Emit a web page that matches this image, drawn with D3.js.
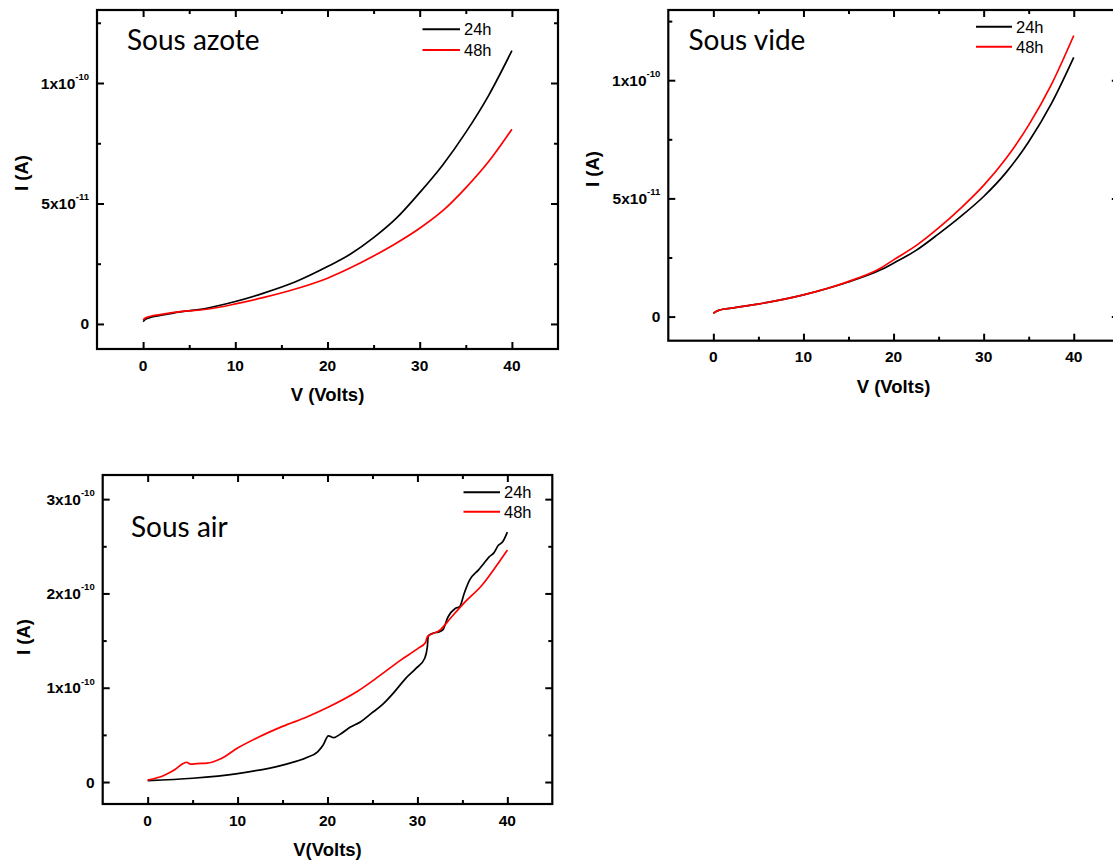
<!DOCTYPE html>
<html>
<head>
<meta charset="utf-8">
<script src="https://cdn.jsdelivr.net/npm/d3@7"></script>
<style>
  html, body { margin: 0; padding: 0; background: #fff; }
  svg { display: block; }
</style>
</head>
<body>
<svg id="chart" width="1113" height="861"></svg>
<script>
// ---------------- DATA (current in pA = 1e-12 A) ----------------
const seriesNames = ["24h", "48h"];
const seriesColors = ["#000000", "#ff0000"];

const xTicks = [0, 10, 20, 30, 40];
const xMinorTicks = [5, 15, 25, 35];

// Sous azote
const azoteV24 = [0, 0.3, 0.7, 2, 4, 6.9, 10, 13, 16.6, 20, 22.5, 25, 27.5, 30, 32.5, 35, 37.5, 40];
const azoteI24 = [1.0, 2.0, 2.6, 3.6, 5.0, 6.5, 9.3, 12.7, 17.6, 23.8, 29.0, 35.8, 44.0, 54.5, 66.0, 79.5, 95.0, 113.4];
const azoteV48 = [0, 0.3, 0.7, 2, 4, 6.9, 10, 13, 16.6, 20, 22.5, 25, 27.5, 30, 32.5, 35, 37.5, 40];
const azoteI48 = [1.7, 2.6, 3.1, 4.0, 5.1, 6.1, 8.3, 10.9, 14.6, 19.0, 23.3, 28.2, 33.6, 39.7, 47.0, 56.5, 67.5, 80.8];
const azoteYTicks = [0, 50, 100];
const azoteYMinor = [25, 75, 125];
const azoteYLabels = [["0", ""], ["5x10", "-11"], ["1x10", "-10"]];

// Sous vide
const videV24 = [0, 0.3, 0.7, 2, 5.1, 10, 14.8, 18.7, 20, 22.5, 25, 27.5, 30, 32.5, 35, 37.5, 40];
const videI24 = [1.4, 2.2, 2.8, 3.6, 5.4, 9.2, 14.4, 20.0, 22.6, 28.0, 35.0, 42.5, 50.8, 61.0, 74.0, 90.0, 109.7];
const videV48 = [0, 0.3, 0.7, 2, 5.1, 10, 14.8, 18.7, 20, 22.5, 25, 27.5, 30, 32.5, 35, 37.5, 40];
const videI48 = [1.4, 2.2, 2.8, 3.6, 5.4, 9.2, 14.6, 20.8, 24.0, 30.0, 37.5, 46.0, 55.5, 67.0, 81.0, 98.0, 118.9];
const videYTicks = [0, 50, 100];
const videYMinor = [25, 75, 125];
const videYLabels = [["0", ""], ["5x10", "-11"], ["1x10", "-10"]];

// Sous air
const airV24 = [0, 5, 10, 15, 17.7, 18.9, 19.5, 20.1, 20.7, 21.3, 22.5, 23.7, 24.9, 26.1, 27.3, 28.7, 29.9, 30.8, 31.1, 31.2, 31.8, 32.3, 32.8, 33.4, 34.2, 34.7, 35.2, 35.8, 36.8, 37.4, 38.0, 38.5, 39.0, 39.5, 40];
const airI24 = [1.4, 4, 9, 18, 26, 32, 39, 49, 47, 50, 58, 64, 73, 82, 94, 110, 121, 131, 143, 155, 158, 159, 161, 175, 184, 186, 200, 214, 225, 232, 239, 243, 251, 255, 265];
const airV48 = [0, 1.8, 3.0, 4.0, 4.3, 4.8, 5.5, 6.6, 8.2, 10, 12.2, 15, 17.7, 20, 23.3, 25.7, 28.1, 30.1, 30.9, 31.1, 32.5, 33.7, 35.2, 37.2, 39.2, 40];
const airI48 = [2, 7, 13, 20, 21, 19, 19.5, 20, 25, 36, 47, 59, 69, 79, 96, 112, 129, 142, 148, 154, 161, 174, 190, 209, 235, 246];
const airYTicks = [0, 100, 200, 300];
const airYMinor = [50, 150, 250];
const airYLabels = [["0", ""], ["1x10", "-10"], ["2x10", "-10"], ["3x10", "-10"]];

// ---------------- DRAWING ----------------
const svg = d3.select("#chart");
const tickFont = "'Liberation Sans', Arial, sans-serif";

function drawPanel(cfg) {
  const x = d3.scaleLinear().domain([-5, 45]).range([cfg.left, cfg.right]);
  const y = d3.scaleLinear().domain(cfg.yDomain).range([cfg.bottom, cfg.top]);
  const g = svg.append("g");

  const majL = 7, minL = 4;
  const axes = [
    {axis: d3.axisBottom(x), tr: `translate(0,${cfg.bottom})`, ticks: xTicks, minor: xMinorTicks},
    {axis: d3.axisTop(x), tr: `translate(0,${cfg.top})`, ticks: xTicks, minor: xMinorTicks},
    {axis: d3.axisLeft(y), tr: `translate(${cfg.left},0)`, ticks: cfg.yTicks, minor: cfg.yMinor},
    {axis: d3.axisRight(y), tr: `translate(${cfg.right},0)`, ticks: cfg.yTicks, minor: cfg.yMinor}
  ];
  axes.forEach(a => {
    [[a.ticks, -majL], [a.minor, -minL]].forEach(([vals, len]) => {
      const gm = g.append("g").attr("transform", a.tr)
        .call(a.axis.tickValues(vals).tickSize(len).tickPadding(0));
      gm.select(".domain").remove();
      gm.selectAll("line").attr("stroke", "#000").attr("stroke-width", 2);
      gm.selectAll("text").remove();
    });
  });

  g.append("rect")
    .attr("x", cfg.left).attr("y", cfg.top)
    .attr("width", cfg.right - cfg.left).attr("height", cfg.bottom - cfg.top)
    .attr("fill", "none").attr("stroke", "#000").attr("stroke-width", 2.2);

  g.selectAll(".xl").data(xTicks).join("text")
    .attr("x", d => x(d)).attr("y", cfg.bottom + cfg.xLabelDy)
    .attr("text-anchor", "middle")
    .attr("font-family", tickFont).attr("font-weight", "bold").attr("font-size", 15.5)
    .text(d => d);

  cfg.yTicks.forEach((v, i) => {
    const lab = cfg.yLabels[i];
    const t = g.append("text")
      .attr("x", cfg.left - 8).attr("y", y(v) + 5.5)
      .attr("text-anchor", "end")
      .attr("font-family", tickFont).attr("font-weight", "bold").attr("font-size", 15.5);
    t.append("tspan").text(lab[0]);
    if (lab[1]) {
      t.append("tspan").attr("font-size", 9.5).attr("dy", -8.5).text(lab[1]);
    }
  });

  g.append("text")
    .attr("x", x(20)).attr("y", cfg.xTitleY)
    .attr("text-anchor", "middle")
    .attr("font-family", tickFont).attr("font-weight", "bold").attr("font-size", 18.5)
    .text(cfg.xTitle);
  g.append("text")
    .attr("transform", `translate(${cfg.yTitleX},${cfg.yTitleY}) rotate(-90)`)
    .attr("text-anchor", "middle")
    .attr("font-family", tickFont).attr("font-weight", "bold").attr("font-size", 18.5)
    .text("I (A)");

  const line = d3.line().x(d => x(d[0])).y(d => y(d[1])).curve(d3.curveMonotoneX);
  cfg.series.forEach((s, i) => {
    const pts = s.v.map((v, k) => [v, s.i[k]]);
    g.append("path").attr("d", line(pts))
      .attr("fill", "none").attr("stroke", seriesColors[i]).attr("stroke-width", 1.7)
      .attr("stroke-linejoin", "round");
  });

  seriesNames.forEach((n, i) => {
    const ly = cfg.legY[i];
    g.append("line").attr("x1", cfg.legX1).attr("x2", cfg.legX2).attr("y1", ly).attr("y2", ly)
      .attr("stroke", seriesColors[i]).attr("stroke-width", 2);
    g.append("text").attr("x", cfg.legX2 + 4).attr("y", ly + 6)
      .attr("font-family", tickFont).attr("font-size", 16.5).attr("fill", "#000").text(n);
  });

  g.append("text").attr("x", cfg.noteX).attr("y", cfg.noteY)
    .attr("font-family", "Lato, 'Open Sans', sans-serif").attr("font-size", 28)
    .text(cfg.note);
}

drawPanel({
  left: 97, right: 558, top: 10, bottom: 349, yDomain: [-10.4, 130.3],
  yTicks: azoteYTicks, yMinor: azoteYMinor, yLabels: azoteYLabels,
  xLabelDy: 21.5, xTitle: "V (Volts)", xTitleY: 401, yTitleX: 28, yTitleY: 173,
  series: [{v: azoteV24, i: azoteI24}, {v: azoteV48, i: azoteI48}],
  legX1: 422.5, legX2: 460, legY: [29.3, 50],
  note: "Sous azote", noteX: 127, noteY: 50
});

drawPanel({
  left: 668.3, right: 1118.8, top: 10, bottom: 340.7, yDomain: [-10.2, 129.7],
  yTicks: videYTicks, yMinor: videYMinor, yLabels: videYLabels,
  xLabelDy: 21.5, xTitle: "V (Volts)", xTitleY: 393, yTitleX: 599, yTitleY: 169,
  series: [{v: videV24, i: videI24}, {v: videV48, i: videI48}],
  legX1: 976, legX2: 1012, legY: [26.7, 46.7],
  note: "Sous vide", noteX: 688.5, noteY: 49.5
});

drawPanel({
  left: 102.7, right: 552.3, top: 475, bottom: 804, yDomain: [-23.3, 325.6],
  yTicks: airYTicks, yMinor: airYMinor, yLabels: airYLabels,
  xLabelDy: 22, xTitle: "V(Volts)", xTitleY: 856, yTitleX: 30, yTitleY: 637,
  series: [{v: airV24, i: airI24}, {v: airV48, i: airI48}],
  legX1: 463.5, legX2: 500, legY: [492.3, 511.7],
  note: "Sous air", noteX: 131, noteY: 537
});
</script>
</body>
</html>
